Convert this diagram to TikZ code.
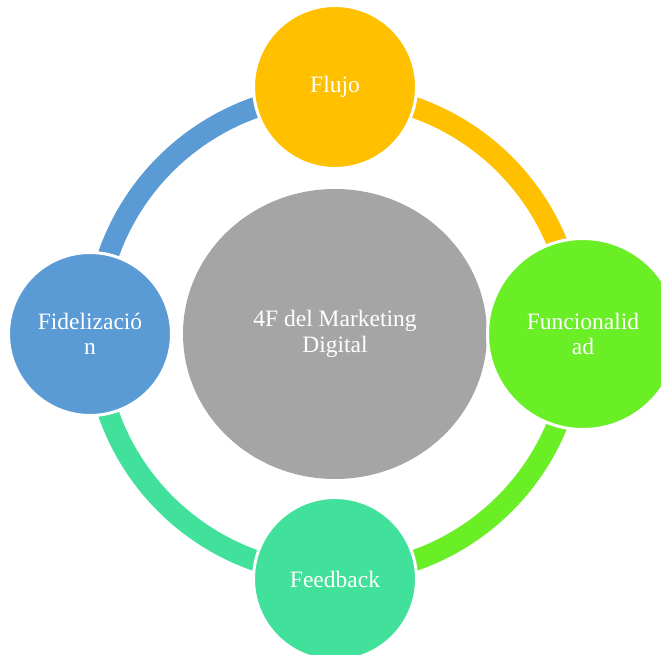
\documentclass[tikz,border=0pt]{standalone}
\usepackage{fontspec}
\setmainfont{Liberation Serif}
\usetikzlibrary{shapes.geometric}

\definecolor{cGray}{HTML}{A5A5A5}
\definecolor{cYellow}{HTML}{FFC000}
\definecolor{cGreen}{HTML}{6AEE26}
\definecolor{cTeal}{HTML}{41E19B}
\definecolor{cBlue}{HTML}{5B9BD5}

\tikzset{
  ringarc/.style={line width=21pt},
  petal/.style={circle, draw=white, line width=3pt, inner sep=0pt,
    text=white, align=center,
    font=\fontsize{23.5}{25.5}\selectfont},
  hub/.style={ellipse, inner sep=0pt, text=white, align=center,
    minimum width=304pt, minimum height=290pt,
    font=\fontsize{23.5}{25.5}\selectfont},
}

\begin{document}
\begin{tikzpicture}[x=1pt,y=1pt]
  \useasboundingbox (0,0) rectangle (661,-655);
  \fill[white] (0,0) rectangle (661,-655);

  % centre of the cycle ring
  \coordinate (ringC) at (335,-334);

  % coloured ring segments, drawn beneath the circles
  \draw[ringarc, cYellow] (ringC) ++(90:240) arc[start angle=90, end angle=0, radius=240];
  \draw[ringarc, cGreen]  (ringC) ++(0:240) arc[start angle=0, end angle=-90, radius=240];
  \draw[ringarc, cTeal]   (ringC) ++(-90:240) arc[start angle=-90, end angle=-180, radius=240];
  \draw[ringarc, cBlue]   (ringC) ++(180:240) arc[start angle=180, end angle=90, radius=240];

  % central hub
  \node[hub, fill=cGray] (hub) at (335,-334) {4F del Marketing\\Digital};

  % the four outer circles
  \node[petal, fill=cYellow, minimum size=163pt] (flujo) at (335,-87) {Flujo};
  \node[petal, fill=cGreen, minimum size=191pt] (func) at (583,-334) {Funcionalid\\ad};
  \node[petal, fill=cTeal, minimum size=163pt] (feed) at (335,-579) {Feedback};
  \node[petal, fill=cBlue, minimum size=163pt] (fide) at (90,-334) {Fidelizació\\n};
\end{tikzpicture}
\end{document}
